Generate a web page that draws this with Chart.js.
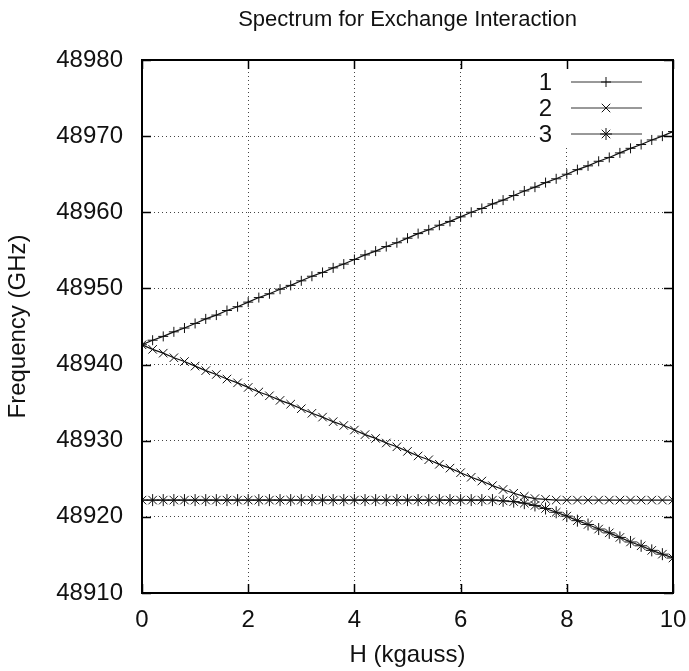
<!DOCTYPE html>
<html>
<head>
<meta charset="utf-8">
<script src="https://cdn.jsdelivr.net/npm/chart.js@4/dist/chart.umd.min.js"></script>
<style>
  html, body { margin: 0; padding: 0; background: #fff; }
  #wrap { width: 689px; height: 671px; }
</style>
</head>
<body>
<div id="wrap"><canvas id="grafico"></canvas></div>
<script>
// field H in kgauss, 0 .. 10 step 0.2
const campoH = [
  0.0, 0.2, 0.4, 0.6, 0.8, 1.0, 1.2, 1.4, 1.6, 1.8,
  2.0, 2.2, 2.4, 2.6, 2.8, 3.0, 3.2, 3.4, 3.6, 3.8,
  4.0, 4.2, 4.4, 4.6, 4.8, 5.0, 5.2, 5.4, 5.6, 5.8,
  6.0, 6.2, 6.4, 6.6, 6.8, 7.0, 7.2, 7.4, 7.6, 7.8,
  8.0, 8.2, 8.4, 8.6, 8.8, 9.0, 9.2, 9.4, 9.6, 9.8,
  10.0
];

// frequencies in GHz for the three levels
const nivel1 = [
  48942.6, 48943.2, 48943.7, 48944.3, 48944.8, 48945.4, 48946.0, 48946.5, 48947.1, 48947.6,
  48948.2, 48948.8, 48949.3, 48949.9, 48950.4, 48951.0, 48951.6, 48952.1, 48952.7, 48953.2,
  48953.8, 48954.4, 48954.9, 48955.5, 48956.0, 48956.6, 48957.2, 48957.7, 48958.3, 48958.8,
  48959.4, 48960.0, 48960.5, 48961.1, 48961.6, 48962.2, 48962.8, 48963.3, 48963.9, 48964.4,
  48965.0, 48965.6, 48966.1, 48966.7, 48967.2, 48967.8, 48968.4, 48968.9, 48969.5, 48970.0,
  48970.6
];
const nivel2 = [
  48942.6, 48942.0, 48941.5, 48940.9, 48940.4, 48939.8, 48939.2, 48938.7, 48938.1, 48937.6,
  48937.0, 48936.4, 48935.9, 48935.3, 48934.8, 48934.2, 48933.6, 48933.1, 48932.5, 48932.0,
  48931.4, 48930.8, 48930.3, 48929.7, 48929.2, 48928.6, 48928.0, 48927.5, 48926.9, 48926.4,
  48925.8, 48925.2, 48924.7, 48924.1, 48923.6, 48923.1, 48922.7, 48922.4, 48922.3, 48922.2,
  48922.2, 48922.2, 48922.2, 48922.2, 48922.2, 48922.2, 48922.2, 48922.2, 48922.2, 48922.2,
  48922.2
];
const nivel3 = [
  48922.2, 48922.2, 48922.2, 48922.2, 48922.2, 48922.2, 48922.2, 48922.2, 48922.2, 48922.2,
  48922.2, 48922.2, 48922.2, 48922.2, 48922.2, 48922.2, 48922.2, 48922.2, 48922.2, 48922.2,
  48922.2, 48922.2, 48922.2, 48922.2, 48922.2, 48922.2, 48922.2, 48922.2, 48922.2, 48922.2,
  48922.2, 48922.2, 48922.2, 48922.2, 48922.1, 48922.0, 48921.8, 48921.5, 48921.1, 48920.6,
  48920.1, 48919.5, 48919.0, 48918.4, 48917.9, 48917.3, 48916.7, 48916.2, 48915.6, 48915.1,
  48914.6
];

const nomes = ['1', '2', '3'];
const marcadores = ['cross', 'crossRot', 'star'];
const raios = [5, 6, 6];

const ticksX = [0, 2, 4, 6, 8, 10];
const ticksY = [48910, 48920, 48930, 48940, 48950, 48960, 48970, 48980];

const titulo = 'Spectrum for Exchange Interaction';
const fonte = 'Liberation Sans, Arial, Helvetica, sans-serif';

function serie(ys) {
  return campoH.map((x, i) => ({ x: x, y: ys[i] }));
}

// gnuplot-like key box, frame, inward ticks and a title centred over the plot
const molduraPlugin = {
  id: 'moldura',
  beforeDatasetsDraw(chart) {
    const { ctx, chartArea } = chart;
    ctx.save();
    ctx.fillStyle = '#fff';
    ctx.fillRect(chartArea.right - 136, chartArea.top + 1, 135, 87);
    ctx.restore();
  },
  afterDatasetsDraw(chart) {
    const { ctx, chartArea, scales } = chart;
    const a = chartArea;
    ctx.save();

    // title
    ctx.fillStyle = '#111';
    ctx.font = '22px ' + fonte;
    ctx.textAlign = 'center';
    ctx.textBaseline = 'middle';
    ctx.fillText(titulo, (a.left + a.right) / 2, 20);

    // legend entries
    chart.data.datasets.forEach((ds, i) => {
      const y = a.top + 22 + i * 26;
      ctx.fillStyle = '#111';
      ctx.font = '24px ' + fonte;
      ctx.textAlign = 'right';
      ctx.textBaseline = 'middle';
      ctx.fillText(ds.label, a.right - 121, y + 1);
      ctx.strokeStyle = '#333';
      ctx.lineWidth = 1;
      ctx.beginPath();
      ctx.moveTo(a.right - 102, y);
      ctx.lineTo(a.right - 31, y);
      ctx.stroke();
      ctx.strokeStyle = '#111';
      Chart.helpers.drawPoint(ctx, {
        pointStyle: ds.pointStyle,
        radius: ds.pointRadius,
        rotation: 0,
        borderWidth: 1
      }, a.right - 67, y);
    });

    // inward ticks on all four sides
    ctx.strokeStyle = '#000';
    ctx.lineWidth = 1.5;
    ctx.beginPath();
    ticksY.forEach(v => {
      const py = Math.round(scales.y.getPixelForValue(v)) + 0.5;
      ctx.moveTo(a.left, py); ctx.lineTo(a.left + 9, py);
      ctx.moveTo(a.right, py); ctx.lineTo(a.right - 9, py);
    });
    ticksX.forEach(v => {
      const px = Math.round(scales.x.getPixelForValue(v)) + 0.5;
      ctx.moveTo(px, a.bottom); ctx.lineTo(px, a.bottom - 9);
      ctx.moveTo(px, a.top); ctx.lineTo(px, a.top + 9);
    });
    ctx.stroke();

    // frame
    ctx.lineWidth = 2;
    ctx.strokeRect(a.left, a.top, a.right - a.left, a.bottom - a.top);
    ctx.restore();
  }
};

const ctx = document.getElementById('grafico').getContext('2d');

const grafico = new Chart(ctx, {
  type: 'line',
  data: {
    datasets: [nivel1, nivel2, nivel3].map((ys, i) => ({
      label: nomes[i],
      data: serie(ys),
      borderColor: '#111',
      backgroundColor: '#111',
      borderWidth: 1.2,
      pointStyle: marcadores[i],
      pointRadius: raios[i],
      pointBorderWidth: 1,
      pointBorderColor: '#111',
      pointHoverRadius: raios[i],
      fill: false,
      tension: 0
    }))
  },
  options: {
    responsive: true,
    maintainAspectRatio: false,
    animation: false,
    layout: { padding: { top: 60, right: 16, bottom: 0, left: 0 } },
    plugins: {
      legend: { display: false },
      tooltip: { enabled: false },
      title: { display: false }
    },
    scales: {
      x: {
        type: 'linear',
        min: 0,
        max: 10,
        afterFit(scale) {
          scale.height = 78;
          scale.paddingLeft = 0;
          scale.paddingRight = 0;
        },
        afterBuildTicks(scale) { scale.ticks = ticksX.map(v => ({ value: v })); },
        ticks: {
          color: '#111',
          padding: 13,
          font: { family: fonte, size: 24 },
          callback: v => String(v)
        },
        grid: { color: '#444', lineWidth: 1, drawTicks: false },
        border: { display: false, dash: [1, 3] },
        title: {
          display: true,
          text: 'H (kgauss)',
          color: '#111',
          font: { family: fonte, size: 24 },
          padding: { top: 0, bottom: 1 }
        }
      },
      y: {
        type: 'linear',
        min: 48910,
        max: 48980,
        afterFit(scale) {
          scale.width = 142;
          scale.paddingTop = 0;
          scale.paddingBottom = 0;
        },
        afterBuildTicks(scale) { scale.ticks = ticksY.map(v => ({ value: v })); },
        ticks: {
          color: '#111',
          padding: 19,
          font: { family: fonte, size: 24 },
          callback: v => String(v)
        },
        grid: { color: '#444', lineWidth: 1, drawTicks: false },
        border: { display: false, dash: [1, 3] },
        title: {
          display: true,
          text: 'Frequency (GHz)',
          color: '#111',
          font: { family: fonte, size: 24 },
          padding: { top: 4, bottom: 0 }
        }
      }
    }
  },
  plugins: [molduraPlugin]
});
</script>
</body>
</html>
